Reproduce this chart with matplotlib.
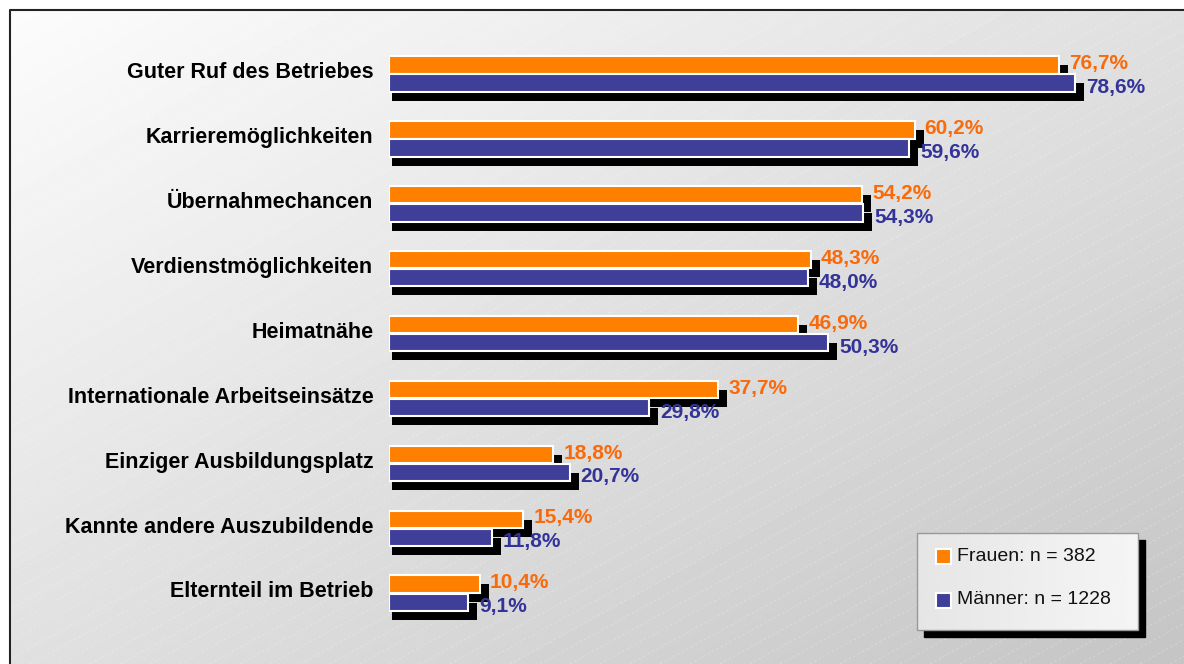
import numpy as np
import matplotlib.pyplot as plt
from matplotlib.patches import Rectangle

# Daten
kategorien = ["Guter Ruf des Betriebes", "Karrieremöglichkeiten", "Übernahmechancen",
              "Verdienstmöglichkeiten", "Heimatnähe", "Internationale Arbeitseinsätze",
              "Einziger Ausbildungsplatz", "Kannte andere Auszubildende", "Elternteil im Betrieb"]
frauen = [76.7, 60.2, 54.2, 48.3, 46.9, 37.7, 18.8, 15.4, 10.4]
maenner = [78.6, 59.6, 54.3, 48.0, 50.3, 29.8, 20.7, 11.8, 9.1]
legende = ["Frauen: n = 382", "Männer: n = 1228"]

W, H = 1184, 664
c_orange = "#FF8000"
c_blau = "#3F3F99"
t_orange = "#F96A0A"
t_blau = "#333399"

plt.rcParams["font.family"] = ["Liberation Sans", "DejaVu Sans"]

fig = plt.figure(figsize=(W / 100, H / 100), dpi=100)

# Hintergrund mit Verlauf
bg = fig.add_axes([0, 0, 1, 1])
xx, yy = np.meshgrid(np.linspace(0, 1, 300), np.linspace(0, 1, 200))
grad = 0.99 - 0.11 * (xx + yy)
bg.imshow(grad, cmap="gray", vmin=0, vmax=1, extent=[0, W, H, 0], aspect="auto")
# feine diagonale Linien
for k in range(-40, 60):
    x0 = k * 30
    bg.plot([x0, x0 + 1400], [H, H - 1400 * 0.55], color="white", lw=0.6,
            ls=(0, (3, 3)), alpha=0.3)
bg.add_patch(Rectangle((0, 0), W, 10, color="white", zorder=3))
bg.add_patch(Rectangle((0, 0), 10, H, color="white", zorder=3))
bg.plot([10, 10, W], [H, 10, 10], color="#222222", lw=1.5, zorder=4)
bg.set_xlim(0, W)
bg.set_ylim(H, 0)
bg.axis("off")

# Diagramm
x_left = 389
px_pro_proz = 8.73
xmax = 90
y0, dy = 74, 64.9
ylo, yhi = -0.6, 8.6
ax = fig.add_axes([x_left / W, 1 - (y0 + yhi * dy) / H,
                   xmax * px_pro_proz / W, (yhi - ylo) * dy / H])
ax.set_xlim(0, xmax)
ax.set_ylim(yhi, ylo)
ax.axis("off")

pos = np.arange(len(kategorien))
h = 0.268
off = 0.139
sx = 9 / px_pro_proz
sy = 9 / dy

# Schatten
ax.barh(pos - off + sy, np.array(frauen) + sx - 0.4, left=0.4, height=h, color="black", zorder=1)
ax.barh(pos + off + sy, np.array(maenner) + sx - 0.4, left=0.4, height=h, color="black", zorder=1)
# Balken
ax.barh(pos - off, frauen, height=h, color=c_orange, edgecolor="white", lw=1.5, zorder=2)
ax.barh(pos + off, maenner, height=h, color=c_blau, edgecolor="white", lw=1.5, zorder=2)

for i in range(len(kategorien)):
    ax.text(frauen[i] + 1.15, pos[i] - off - 0.02, f"{frauen[i]:.1f}%".replace(".", ","),
            color=t_orange, fontsize=15, fontweight="bold", va="center", ha="left", zorder=3)
    ax.text(maenner[i] + 1.25, pos[i] + off + 0.07, f"{maenner[i]:.1f}%".replace(".", ","),
            color=t_blau, fontsize=15, fontweight="bold", va="center", ha="left", zorder=3)
    ax.text(-1.8, pos[i] - 0.02, kategorien[i], fontsize=15.5, fontweight="bold",
            ha="right", va="center", color="black")

# Legende
lx0, ly0, lx1, ly1 = 917, 533, 1138, 630
bg.add_patch(Rectangle((lx0 + 7, ly0 + 7), lx1 - lx0, ly1 - ly0, color="black", zorder=5))
lg = np.linspace(0, 1, 100)[None, :]
bg.imshow(0.9 + 0.06 * lg, cmap="gray", vmin=0, vmax=1,
          extent=[lx0, lx1, ly1, ly0], aspect="auto", zorder=6)
bg.add_patch(Rectangle((lx0, ly0), lx1 - lx0, ly1 - ly0, fill=False,
                       edgecolor="#999999", lw=1, zorder=7))
for j, (txt, col) in enumerate(zip(legende, [c_orange, c_blau])):
    cy = 556.5 + j * 43.5
    bg.add_patch(Rectangle((936, cy - 7.5), 15, 15, facecolor=col,
                           edgecolor="white", lw=1.5, zorder=8))
    bg.text(957, cy, txt, fontsize=14, va="center", ha="left", color="#111111", zorder=8)
bg.set_xlim(0, W)
bg.set_ylim(H, 0)

fig.savefig("out.png", dpi=100)
